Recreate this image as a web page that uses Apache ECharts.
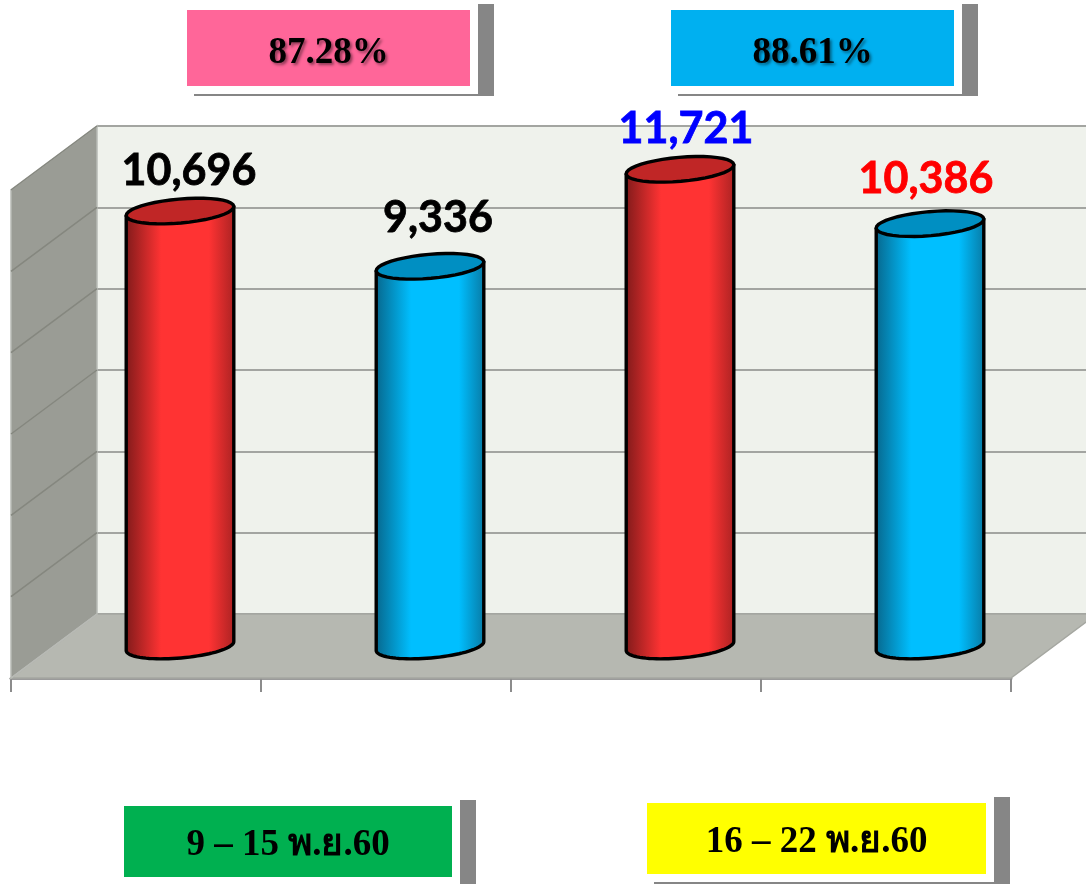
<!DOCTYPE html>
<html>
<head>
<meta charset="utf-8">
<title>Chart</title>
<style>
    html, body { margin: 0; padding: 0; background: #fff; }
    #main { width: 1086px; height: 884px; }
</style>
<script src="https://cdn.jsdelivr.net/npm/echarts@6/dist/echarts.min.js"></script>
</head>
<body>
<div id="main"></div>
<script>
// data
const barNames = ['9 – 15 พ.ย.60 ก', '9 – 15 พ.ย.60 ข', '16 – 22 พ.ย.60 ก', '16 – 22 พ.ย.60 ข'];
const barValues = [10696, 9336, 11721, 10386];
const wallTicks = [0, 2000, 4000, 6000, 8000, 10000, 12000];
const percentLabels = ['87.28%', '88.61%'];
const periodLabels = ['9 – 15 พ.ย.60', '16 – 22 พ.ย.60'];

// styles and layout
const barBody = [['#7d1a1a', '#ff3333', '#ff3333', '#a82222'], ['#07658a', '#00bfff', '#00bfff', '#0878a2']];
const barTop = ['#c02626', '#008fc2'];
const barStyleIndex = [0, 1, 0, 1];
const labelColors = ['#000', '#000', '#00f', '#f00'];
const labelShift = [[9, -40], [8, -48], [6, -40], [-4, -45]];
const DEPTH_X = 86, DEPTH_Y = 64, ROOM_W = 1000;
const percentBoxes = [[187, 10, 283, 76, '#ff6699'], [671, 10, 283, 76, '#00b0f0']];
const periodBoxes = [[124, 806, 328, 71, '#00b050'], [647, 803, 339, 71, '#ffff00']];

// tilted ellipse, t runs from t0 to t1
function ellipsePts(cx, cy, a, b, t0, t1) {
    const tilt = -5 * Math.PI / 180;
    let pts = [];
    for (let i = 0; i <= 40; i++) {
        let t = t0 + (t1 - t0) * i / 40;
        let ex = a * Math.cos(t), ey = b * Math.sin(t);
        pts.push([
            cx + ex * Math.cos(tilt) - ey * Math.sin(tilt),
            cy + ex * Math.sin(tilt) + ey * Math.cos(tilt)
        ]);
    }
    return pts;
}

function renderCylinder(params, api) {
    let i = params.dataIndex;
    let base = api.coord([i, 0]);
    let top = api.coord([i, api.value(1)]);
    let a = api.size([1, 0])[0] * 0.216;
    let b = 12;
    let style = barStyleIndex[i];
    let stops = barBody[style];
    let lower = ellipsePts(base[0], base[1], a, b, 0, Math.PI);
    let topRight = ellipsePts(top[0], top[1], a, b, 0, 0)[0];
    let topLeft = ellipsePts(top[0], top[1], a, b, Math.PI, Math.PI)[0];
    return {
        type: 'group',
        children: [
            {
                type: 'polygon',
                shape: { points: [topRight].concat(lower, [topLeft]) },
                style: {
                    fill: new echarts.graphic.LinearGradient(0, 0, 1, 0, [
                        { offset: 0, color: stops[0] },
                        { offset: 0.33, color: stops[1] },
                        { offset: 0.76, color: stops[2] },
                        { offset: 1, color: stops[3] }
                    ]),
                    stroke: '#000',
                    lineWidth: 3.4,
                    lineJoin: 'round'
                }
            },
            {
                type: 'polygon',
                shape: { points: ellipsePts(top[0], top[1], a, b, 0, Math.PI * 2) },
                style: { fill: barTop[style], stroke: '#000', lineWidth: 3.4 }
            },
            {
                type: 'text',
                style: {
                    text: api.value(1).toLocaleString('en-US'),
                    x: top[0] + labelShift[i][0],
                    y: top[1] + labelShift[i][1],
                    fill: labelColors[i],
                    stroke: labelColors[i],
                    lineWidth: 0.8,
                    fontFamily: 'Lato',
                    fontWeight: 'bold',
                    fontSize: 43,
                    align: 'center',
                    verticalAlign: 'middle'
                }
            }
        ]
    };
}

// side wall and floor hang off the back wall's grid
function renderRoom(params, api) {
    let grid = params.coordSys;
    let x0 = grid.x, x1 = grid.x + ROOM_W;
    let yTop = grid.y, yBottom = grid.y + grid.height;
    let children = [
        {
            type: 'polygon',
            shape: { points: [[x0, yBottom], [x1, yBottom], [x1 - DEPTH_X, yBottom + DEPTH_Y], [x0 - DEPTH_X, yBottom + DEPTH_Y]] },
            style: { fill: '#b6b8b1', stroke: '#a5a7a1', lineWidth: 1.5 }
        },
        {
            type: 'polygon',
            shape: { points: [[x0, yTop], [x0, yBottom], [x0 - DEPTH_X, yBottom + DEPTH_Y], [x0 - DEPTH_X, yTop + DEPTH_Y]] },
            style: { fill: '#9a9c95', stroke: '#b8bab5', lineWidth: 1.5 }
        }
    ];
    wallTicks.forEach(function (tick) {
        let y = api.coord([0, tick])[1];
        children.push({
            type: 'line',
            shape: { x1: x0, y1: y, x2: x0 - DEPTH_X, y2: y + DEPTH_Y },
            style: { stroke: tick === 0 ? '#b8bab5' : '#85877f', lineWidth: 1.5 }
        });
    });
    return { type: 'group', children: children };
}

function boxGraphic(box, text, fontSize, textShadow, nudge) {
    let [x, y, w, h, color] = box;
    return {
        type: 'group',
        children: [
            { type: 'rect', shape: { x: x + w + 8, y: y - 6, width: 16, height: h + 16 }, style: { fill: '#868686' } },
            { type: 'rect', shape: { x: x + 7, y: y + h + 8, width: w + 17, height: 2 }, style: { fill: '#868686' } },
            { type: 'rect', shape: { x: x, y: y, width: w, height: h }, style: { fill: color } },
            {
                type: 'text',
                style: {
                    text: text,
                    x: x + w / 2,
                    y: y + h / 2 + nudge,
                    fill: '#000',
                    fontFamily: '"Liberation Serif", "DejaVu Serif", "Noto Sans", serif',
                    fontWeight: 'bold',
                    fontSize: fontSize,
                    align: 'center',
                    verticalAlign: 'middle',
                    textShadowColor: textShadow ? 'rgba(0,0,0,0.45)' : 'transparent',
                    textShadowBlur: textShadow ? 3 : 0,
                    textShadowOffsetX: textShadow ? 2 : 0,
                    textShadowOffsetY: textShadow ? 2 : 0
                }
            }
        ]
    };
}

const plainValueAxis = { min: 0, max: 12000, interval: 2000, axisLine: { show: false }, axisTick: { show: false }, axisLabel: { show: false }, splitLine: { show: false } };
const hiddenCatAxis = { data: barNames, axisLine: { show: false }, axisTick: { show: false }, axisLabel: { show: false } };

const option = {
    animation: false,
    backgroundColor: '#fff',
    graphic: percentBoxes.map((b, i) => boxGraphic(b, percentLabels[i], 37, true, 5))
        .concat(periodBoxes.map((b, i) => boxGraphic(b, periodLabels[i], 37, false, 3.5))),
    grid: [
        // back wall, front edge of the floor, and the plane the bars stand on
        { left: 97, top: 126, width: 1000, height: 488, show: true, backgroundColor: '#eff2ec', borderWidth: 0 },
        { left: 11, top: 190, width: 1000, height: 488 },
        { left: 55, top: 158, width: 1000, height: 488 }
    ],
    xAxis: [
        Object.assign({ type: 'category', gridIndex: 0 }, hiddenCatAxis),
        {
            type: 'category',
            gridIndex: 1,
            data: barNames,
            axisLine: { show: true, lineStyle: { color: '#9a9a9a', width: 3 } },
            axisTick: { show: true, alignWithLabel: false, interval: 0, length: 14, lineStyle: { color: '#8c8c8c', width: 2 } },
            axisLabel: { show: false }
        },
        Object.assign({ type: 'category', gridIndex: 2 }, hiddenCatAxis)
    ],
    yAxis: [
        Object.assign({}, plainValueAxis, { type: 'value', gridIndex: 0, splitLine: { show: true, lineStyle: { color: '#a3a5a1', width: 2 } } }),
        Object.assign({ type: 'value', gridIndex: 1 }, plainValueAxis),
        Object.assign({ type: 'value', gridIndex: 2 }, plainValueAxis)
    ],
    series: [
        {
            type: 'custom',
            xAxisIndex: 0,
            yAxisIndex: 0,
            z: 1,
            clip: false,
            silent: true,
            data: [[0, 0]],
            renderItem: renderRoom
        },
        {
            type: 'custom',
            xAxisIndex: 2,
            yAxisIndex: 2,
            z: 5,
            clip: false,
            data: barValues.map((v, i) => [i, v]),
            encode: { x: 0, y: 1 },
            renderItem: renderCylinder
        }
    ]
};

let ec = echarts.init(document.getElementById('main'));
ec.setOption(option);
</script>
</body>
</html>
